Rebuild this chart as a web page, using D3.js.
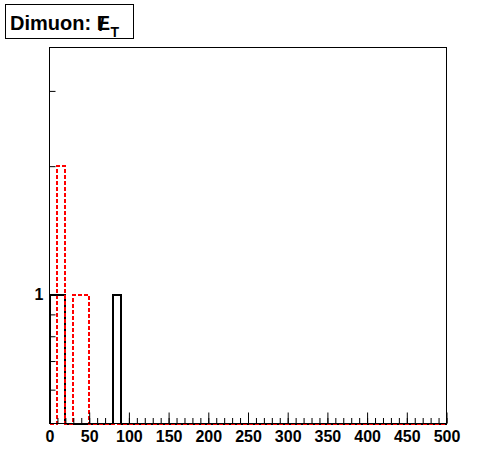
<!DOCTYPE html>
<html>
<head>
<meta charset="utf-8">
<script src="https://cdn.jsdelivr.net/npm/d3@7"></script>
<style>
body { margin: 0; background: #fff; }
svg text { font-family: "Liberation Sans", Arial, sans-serif; font-weight: bold; }
.axis path { display: none; }
.axis line { stroke: #000; stroke-width: 1; }
</style>
</head>
<body>
<svg id="chart" width="496" height="472"></svg>
<script>
// bin edges (width 10, 0..500)
var binWidth = 10;
var binLow = d3.range(0, 500, binWidth);
// counts per bin, black solid histogram
var blackCounts = [1,1,0,0,0,0,0,0,1,0, 0,0,0,0,0,0,0,0,0,0, 0,0,0,0,0,0,0,0,0,0, 0,0,0,0,0,0,0,0,0,0, 0,0,0,0,0,0,0,0,0,0];
// counts per bin, red dashed histogram
var redCounts = [0,2,0,1,1,0,0,0,0,0, 0,0,0,0,0,0,0,0,0,0, 0,0,0,0,0,0,0,0,0,0, 0,0,0,0,0,0,0,0,0,0, 0,0,0,0,0,0,0,0,0,0];
var xMajor = [0,50,100,150,200,250,300,350,400,450,500];
var xMinor = d3.range(0, 501, 10);
var yMajor = [1];
var yMinor = [0.6,0.7,0.8,0.9,2,3];

var svg = d3.select("#chart");
var frame = {left: 49.5, right: 446.5, top: 47.5, bottom: 423.5};

var x = d3.scaleLinear().domain([0, 500]).range([frame.left, frame.right]);
var y = d3.scaleLog().domain([0.5, 3.79]).range([frame.bottom, frame.top]).clamp(true);

svg.append("rect")
	.attr("x", 0).attr("y", 0).attr("width", 496).attr("height", 472)
	.attr("fill", "#fff");

// histogram step path
var stepPath = function(counts){
	var p = "M" + x(0) + "," + frame.bottom;
	counts.forEach(function(v, i){
		var yy = v > 0 ? y(v) : frame.bottom;
		p += "L" + x(binLow[i]) + "," + yy + "L" + x(binLow[i] + binWidth) + "," + yy;
	});
	p += "L" + x(500) + "," + frame.bottom;
	return p;
};

svg.append("path")
	.attr("d", stepPath(blackCounts))
	.attr("fill", "none")
	.attr("stroke", "#000")
	.attr("stroke-width", 2)
	.attr("shape-rendering", "crispEdges");

svg.append("path")
	.attr("d", stepPath(redCounts))
	.attr("fill", "none")
	.attr("stroke", "#f00")
	.attr("stroke-width", 2)
	.attr("stroke-dasharray", "4,2")
	.attr("shape-rendering", "crispEdges");

// axes
svg.append("g").attr("class", "axis")
	.attr("transform", "translate(0," + frame.bottom + ")")
	.call(d3.axisBottom(x).tickValues(xMinor).tickSize(-5.5).tickFormat(""));
var gX = svg.append("g").attr("class", "axis")
	.attr("transform", "translate(0," + frame.bottom + ")")
	.call(d3.axisBottom(x).tickValues(xMajor).tickSize(-11).tickPadding(7).tickFormat(d3.format("d")));
gX.selectAll("text").attr("font-size", 16).attr("fill", "#000");

svg.append("g").attr("class", "axis")
	.attr("transform", "translate(" + frame.left + ",0)")
	.call(d3.axisLeft(y).tickValues(yMinor).tickSize(-6).tickFormat(""));
var gY = svg.append("g").attr("class", "axis")
	.attr("transform", "translate(" + frame.left + ",0)")
	.call(d3.axisLeft(y).tickValues(yMajor).tickSize(-12).tickPadding(6).tickFormat(d3.format("d")));
gY.selectAll("text").attr("font-size", 16).attr("fill", "#000");

// frame
svg.append("rect")
	.attr("x", frame.left).attr("y", frame.top)
	.attr("width", frame.right - frame.left).attr("height", frame.bottom - frame.top)
	.attr("fill", "none").attr("stroke", "#000").attr("stroke-width", 1);

// title box
svg.append("rect")
	.attr("x", 5.5).attr("y", 4.5).attr("width", 128).attr("height", 34)
	.attr("fill", "#fff").attr("stroke", "#000").attr("stroke-width", 1);
var title = svg.append("text")
	.attr("x", 10).attr("y", 29.5)
	.attr("font-size", 20).attr("fill", "#000");
title.append("tspan").text("Dimuon: E");
title.append("tspan").attr("dx", -11).attr("dy", 1).text("/");
title.append("tspan").attr("dx", 6).attr("dy", 6).attr("font-size", 14).text("T");
</script>
</body>
</html>
